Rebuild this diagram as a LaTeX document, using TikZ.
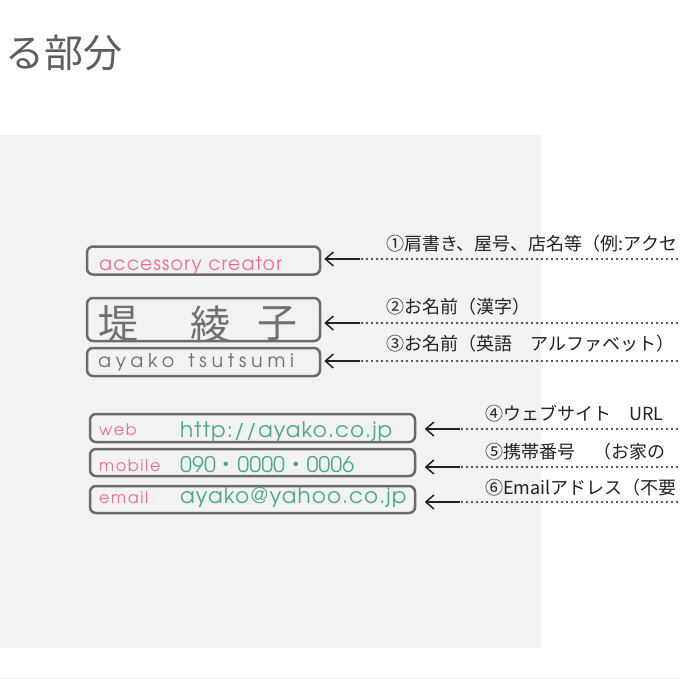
\documentclass[tikz,border=0pt]{standalone}
\usepackage{fontspec}
\usetikzlibrary{arrows.meta}
\newfontfamily\jp{Noto Sans CJK JP}
\newfontfamily\geo{texgyreadventor-regular.otf}
\newfontfamily\geoS[LetterSpace=6]{texgyreadventor-regular.otf}
\newfontfamily\geoM[LetterSpace=10]{texgyreadventor-regular.otf}
\newfontfamily\geoU[LetterSpace=5]{texgyreadventor-regular.otf}
\newfontfamily\geoA[LetterSpace=25]{texgyreadventor-regular.otf}
\definecolor{panel}{HTML}{F2F2F2}
\definecolor{boxline}{HTML}{6B6B6B}
\definecolor{pinktxt}{HTML}{E8708C}
\definecolor{greentxt}{HTML}{4BA98A}
\definecolor{nametxt}{HTML}{707070}
\definecolor{labeltxt}{HTML}{222222}
\definecolor{titletxt}{HTML}{5E5E5E}
\definecolor{edgeline}{HTML}{EEEEEE}
\tikzset{
  card/.style={draw=boxline, line width=2.5pt, rounded corners=6pt, fill=panel, inner sep=0pt},
  lbl/.style={anchor=west, inner sep=0pt, font=\jp\fontsize{18}{18}\selectfont, text=labeltxt},
  dots/.style={draw=labeltxt, line width=2.1pt, dash pattern=on 0pt off 5pt, line cap=round},
  arr/.style={draw=labeltxt, line width=1.5pt, -{Straight Barb[length=8pt,width=14pt,line width=1.5pt]}},
  pinkt/.style={anchor=base west, inner sep=0pt, text=pinktxt},
  greent/.style={anchor=base west, inner sep=0pt, text=greentxt},
  kanji/.style={inner sep=0pt, text=nametxt, font=\jp\fontsize{40}{40}\selectfont}
}
\begin{document}
\begin{tikzpicture}[x=1pt,y=-1pt]
\useasboundingbox (0,0) rectangle (680,680);
\clip (0,0) rectangle (680,680);
\fill[white] (0,0) rectangle (680,680);
% title
\node[anchor=west, inner sep=0pt, text=titletxt, font=\jp\fontsize{39}{39}\selectfont] (title) at (5,53) {る部分};
% panel
\fill[panel] (0,135) rectangle (541,648);
\draw[edgeline, line width=1pt] (0,678) -- (680,678);
% cards
\node[card, minimum width=233pt, minimum height=28pt] (b1) at (203.5,260.5) {};
\node[card, minimum width=233pt, minimum height=43pt] (b2) at (203.5,319.5) {};
\node[card, minimum width=233pt, minimum height=28pt] (b3) at (203.5,362) {};
\node[card, minimum width=325pt, minimum height=28pt] (b4) at (252.5,428) {};
\node[card, minimum width=325pt, minimum height=27pt] (b5) at (252.5,462.5) {};
\node[card, minimum width=325pt, minimum height=27pt] (b6) at (252.5,499.5) {};
% card texts
\node[pinkt, font=\geoS\fontsize{19}{19}\selectfont] (t1) at (99,270) {accessory creator};
\node[kanji] (k1) at (118,324) {堤};
\node[kanji] (k2) at (210,324) {綾};
\node[kanji] (k3) at (277,324) {子};
\node[anchor=base west, inner sep=0pt, text=nametxt, font=\geoA\fontsize{19}{19}\selectfont] (t3) at (98,367) {ayako\hspace{4pt} tsutsumi};
\node[pinkt, font=\geoM\fontsize{16}{16}\selectfont] (w1) at (99,435) {web};
\node[pinkt, font=\geoM\fontsize{16}{16}\selectfont] (w2) at (99,471) {mobile};
\node[pinkt, font=\geoM\fontsize{16}{16}\selectfont] (w3) at (99,503) {email};
\node[greent, font=\geoU\fontsize{21.5}{21.5}\selectfont] (v1) at (180,437) {http://ayako.co.jp};
\node[greent, font=\geo\fontsize{21.5}{21.5}\selectfont] (v2) at (180,472) {090{\jp ・}0000{\jp ・}0006};
\node[greent, font=\geoU\fontsize{21.5}{21.5}\selectfont] (v3) at (180,503) {ayako@yahoo.co.jp};
% labels
\node[lbl] (l1) at (386,244) {①肩書き、屋号、店名等（例:アクセ};
\node[lbl] (l2) at (386,307) {②お名前（漢字）};
\node[lbl] (l3) at (386,344) {③お名前（英語　アルファベット）};
\node[lbl] (l4) at (485,414) {④ウェブサイト　URL};
\node[lbl] (l5) at (485,452) {⑤携帯番号　（お家の};
\node[lbl] (l6) at (485,488) {⑥Emailアドレス（不要};
% connectors
\coordinate (d1) at (682,259); \coordinate (s1) at (360,259);
\coordinate (d2) at (682,323); \coordinate (s2) at (360,323);
\coordinate (d3) at (682,361); \coordinate (s3) at (360,361);
\coordinate (d4) at (682,429); \coordinate (s4) at (460,429);
\coordinate (d5) at (682,467); \coordinate (s5) at (460,467);
\coordinate (d6) at (682,502); \coordinate (s6) at (460,502);
\foreach \i in {1,2,3,4,5,6} {\draw[dots] (d\i) -- (s\i);}
\foreach \i in {1,2,3} {\draw[arr, shorten >=3pt] (s\i) -- (b\i.east |- s\i);}
\foreach \i in {4,5,6} {\draw[arr, shorten >=8.5pt] (s\i) -- (b\i.east |- s\i);}
\end{tikzpicture}
\end{document}
